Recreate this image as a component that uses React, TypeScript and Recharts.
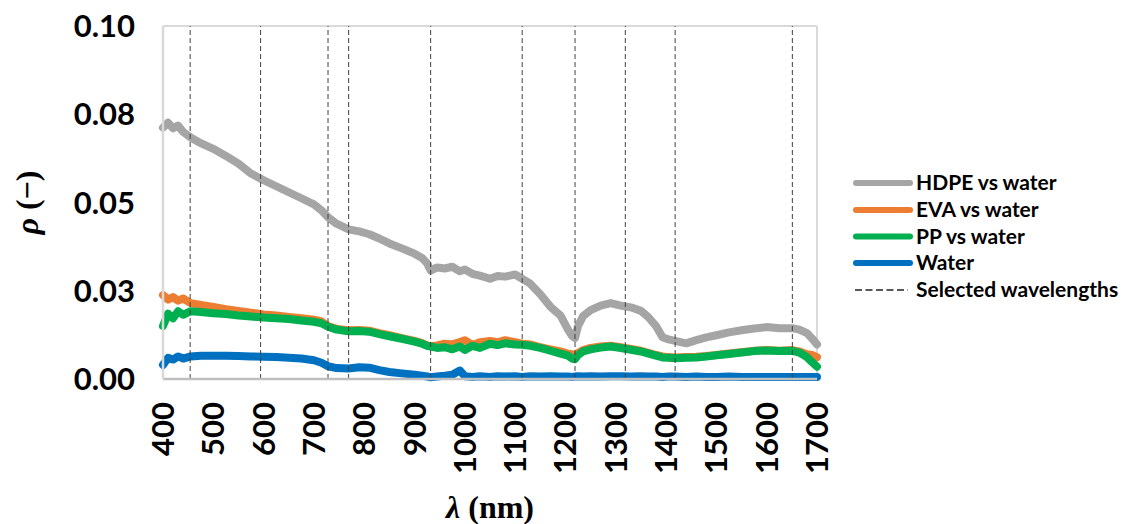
import React from "react";
import { LineChart, Line, XAxis, YAxis, ReferenceLine, Legend } from "recharts";

const wavelengths = [
  400, 410, 420, 430, 440,
  455, 475, 500, 525, 550,
  575, 600, 625, 650, 675,
  700, 715, 728, 745, 769,
  790, 810, 830, 850, 875,
  900, 915, 925, 932, 945,
  960, 975, 990, 1000, 1015,
  1030, 1050, 1065, 1080, 1100,
  1114, 1130, 1150, 1170, 1190,
  1205, 1213, 1219, 1225, 1235,
  1250, 1270, 1290, 1310, 1330,
  1350, 1365, 1380, 1393, 1405,
  1418, 1440, 1460, 1480, 1500,
  1525, 1550, 1575, 1600, 1625,
  1651, 1665, 1680, 1690, 1700,
];

const hdpe = [
  0.0712, 0.0726, 0.0710, 0.0718, 0.0700,
  0.0684, 0.0668, 0.0652, 0.0632, 0.0610,
  0.0582, 0.0563, 0.0546, 0.0529, 0.0512,
  0.0495, 0.0478, 0.0458, 0.0440, 0.0424,
  0.0418, 0.0410, 0.0398, 0.0384, 0.0370,
  0.0355, 0.0343, 0.0328, 0.0307, 0.0316,
  0.0313, 0.0318, 0.0305, 0.0310, 0.0298,
  0.0293, 0.0284, 0.0292, 0.0290, 0.0296,
  0.0284, 0.0270, 0.0240, 0.0205, 0.0180,
  0.0140, 0.0122, 0.0116, 0.0150, 0.0178,
  0.0195, 0.0208, 0.0215, 0.0208, 0.0203,
  0.0193, 0.0175, 0.0150, 0.0118, 0.0112,
  0.0108, 0.0101, 0.0110, 0.0118, 0.0124,
  0.0132, 0.0138, 0.0143, 0.0147, 0.0144,
  0.0144, 0.0140, 0.0130, 0.0115, 0.0098,
];

const eva = [
  0.0238, 0.0225, 0.0232, 0.0222, 0.0228,
  0.0215, 0.0210, 0.0204, 0.0198, 0.0193,
  0.0188, 0.0183, 0.0180, 0.0176, 0.0172,
  0.0168, 0.0163, 0.0150, 0.0142, 0.0138,
  0.0139, 0.0137, 0.0130, 0.0124, 0.0116,
  0.0108, 0.0102, 0.0095, 0.0093, 0.0095,
  0.0100, 0.0098, 0.0105, 0.0110, 0.0096,
  0.0104, 0.0108, 0.0104, 0.0110, 0.0104,
  0.0100, 0.0098, 0.0090, 0.0084, 0.0078,
  0.0072, 0.0070, 0.0068, 0.0074, 0.0082,
  0.0088, 0.0092, 0.0094, 0.0090, 0.0085,
  0.0080, 0.0074, 0.0068, 0.0064, 0.0062,
  0.0061, 0.0062, 0.0063, 0.0065, 0.0068,
  0.0072, 0.0076, 0.0080, 0.0082, 0.0080,
  0.0082, 0.0078, 0.0070, 0.0068, 0.0062,
];

const pp = [
  0.0150, 0.0185, 0.0172, 0.0192, 0.0182,
  0.0192, 0.0190, 0.0186, 0.0184, 0.0180,
  0.0177, 0.0174, 0.0172, 0.0170, 0.0166,
  0.0162, 0.0158, 0.0148, 0.0140, 0.0135,
  0.0136, 0.0134, 0.0127, 0.0121, 0.0114,
  0.0106, 0.0100, 0.0094, 0.0092, 0.0088,
  0.0090, 0.0084, 0.0092, 0.0082, 0.0094,
  0.0088, 0.0100, 0.0096, 0.0101, 0.0098,
  0.0097, 0.0094, 0.0088, 0.0080, 0.0072,
  0.0066, 0.0058, 0.0056, 0.0068, 0.0078,
  0.0084, 0.0089, 0.0092, 0.0088, 0.0083,
  0.0078, 0.0072, 0.0066, 0.0061, 0.0060,
  0.0059, 0.0060, 0.0061, 0.0064, 0.0067,
  0.0071, 0.0075, 0.0079, 0.0081, 0.0079,
  0.0080, 0.0075, 0.0062, 0.0048, 0.0035,
];

const water = [
  0.0040, 0.0060, 0.0055, 0.0064, 0.0058,
  0.0064, 0.0066, 0.0066, 0.0066, 0.0065,
  0.0064, 0.0063, 0.0062, 0.0060, 0.0058,
  0.0053, 0.0046, 0.0036, 0.0031, 0.0030,
  0.0033, 0.0032, 0.0025, 0.0020, 0.0016,
  0.0012, 0.0009, 0.0007, 0.0005, 0.0007,
  0.0009, 0.0012, 0.0024, 0.0008, 0.0006,
  0.0008, 0.0006, 0.0008, 0.0007, 0.0008,
  0.0006, 0.0008, 0.0007, 0.0008, 0.0007,
  0.0007, 0.0006, 0.0007, 0.0008, 0.0007,
  0.0008, 0.0007, 0.0008, 0.0008, 0.0007,
  0.0008, 0.0007, 0.0007, 0.0006, 0.0007,
  0.0007, 0.0006, 0.0007, 0.0006, 0.0006,
  0.0007, 0.0006, 0.0006, 0.0006, 0.0006,
  0.0006, 0.0006, 0.0006, 0.0006, 0.0006,
];

const selectedWavelengths = [454, 594, 728, 769, 932, 1114, 1219, 1319, 1418, 1651];

const xTicks = [400, 500, 600, 700, 800, 900, 1000, 1100, 1200, 1300, 1400, 1500, 1600, 1700];
const yTicks = [0, 0.025, 0.05, 0.075, 0.1];
const yTickLabels = ["0.00", "0.03", "0.05", "0.08", "0.10"];

const seriesKeys = ["hdpe", "eva", "pp", "water"];
const seriesNames = ["HDPE vs water", "EVA vs water", "PP vs water", "Water"];
const seriesColors = ["#A5A5A5", "#ED7D31", "#00B050", "#0070C0"];
const selectedLabel = "Selected wavelengths";

const data = wavelengths.map((w, i) => ({
  w,
  hdpe: hdpe[i],
  eva: eva[i],
  pp: pp[i],
  water: water[i],
}));

const TICK_FONT = "Lato, 'Open Sans', sans-serif";
const TITLE_FONT = "'Liberation Serif', 'Times New Roman', serif";

const YTick = (props: any) => {
  const { x, y, payload } = props;
  const idx = yTicks.indexOf(payload.value);
  return (
    <text x={x} y={y} dy="0.355em" textAnchor="end" fontFamily={TICK_FONT} fontWeight={700} fontSize={31} fill="#000">
      {yTickLabels[idx]}
    </text>
  );
};

const XTick = (props: any) => {
  const { x, y, payload } = props;
  return (
    <text
      x={x}
      y={y}
      dy="0.355em"
      textAnchor="end"
      transform={`rotate(-90, ${x}, ${y})`}
      fontFamily={TICK_FONT}
      fontWeight={700}
      fontSize={31}
      fill="#000"
    >
      {String(payload.value)}
    </text>
  );
};

const XTitle = (props: any) => {
  const vb = props.viewBox || {};
  const cx = vb.x + vb.width / 2;
  return (
    <text x={cx} y={518} textAnchor="middle" fontFamily={TITLE_FONT} fontWeight={700} fontSize={32} fill="#000">
      <tspan fontStyle="italic">λ</tspan>
      <tspan> (nm)</tspan>
    </text>
  );
};

const YTitle = (props: any) => {
  const vb = props.viewBox || {};
  const cy = vb.y + vb.height / 2;
  const x = 38;
  return (
    <text
      x={x}
      y={cy}
      textAnchor="middle"
      transform={`rotate(-90, ${x}, ${cy})`}
      fontFamily={TITLE_FONT}
      fontWeight={700}
      fontSize={32}
      fill="#000"
    >
      <tspan fontStyle="italic">ρ</tspan>
      <tspan> (−)</tspan>
    </text>
  );
};

const renderLegend = () => {
  const rowY = [15, 42, 68.5, 95, 122];
  return (
    <svg width={280} height={140} style={{ overflow: "visible", display: "block" }}>
      {seriesNames.map((name, i) => (
        <g key={name}>
          <line x1={6} x2={60} y1={rowY[i]} y2={rowY[i]} stroke={seriesColors[i]} strokeWidth={6} strokeLinecap="round" />
          <text x={66} y={rowY[i]} dy="0.355em" fontFamily={TICK_FONT} fontWeight={700} fontSize={21} fill="#000">
            {name}
          </text>
        </g>
      ))}
      <line x1={5} x2={58} y1={rowY[4]} y2={rowY[4]} stroke="#222" strokeWidth={1.3} strokeDasharray="7 3.5" />
      <text x={66} y={rowY[4]} dy="0.355em" fontFamily={TICK_FONT} fontWeight={700} fontSize={21} fill="#000">
        {selectedLabel}
      </text>
    </svg>
  );
};

export default function App() {
  return (
    <div style={{ position: "absolute", left: 0, top: 0, width: 1130, height: 524, background: "#fff" }}>
      <LineChart width={1130} height={524} data={data} margin={{ top: 26, right: 313, bottom: 0, left: 0 }}>
        <XAxis
          dataKey="w"
          type="number"
          domain={[400, 1700]}
          ticks={xTicks}
          interval={0}
          height={145}
          tickLine={false}
          tickSize={0}
          tickMargin={23}
          tick={<XTick />}
          axisLine={{ stroke: "#BFBFBF", strokeWidth: 2.5 }}
          label={<XTitle />}
        />
        <YAxis
          type="number"
          domain={[0, 0.1]}
          ticks={yTicks}
          interval={0}
          width={163}
          tickLine={false}
          tickSize={0}
          tickMargin={28}
          tick={<YTick />}
          axisLine={{ stroke: "#D9D9D9", strokeWidth: 2.5 }}
          label={<YTitle />}
        />
        <ReferenceLine y={0.1} stroke="#D9D9D9" strokeWidth={2} />
        <ReferenceLine x={1700} stroke="#D9D9D9" strokeWidth={2} />
        {seriesKeys.map((k, i) => (
          <Line
            key={k}
            dataKey={k}
            name={seriesNames[i]}
            stroke={seriesColors[i]}
            strokeWidth={8}
            strokeLinejoin="round"
            strokeLinecap="round"
            dot={false}
            activeDot={false}
            type="linear"
            isAnimationActive={false}
          />
        ))}
        {selectedWavelengths.map((w) => (
          <ReferenceLine key={w} x={w} stroke="#404040" strokeWidth={1} strokeDasharray="5 3" />
        ))}
        <Legend
          content={renderLegend}
          wrapperStyle={{ position: "absolute", left: 850, top: 168, width: 0, height: 0, overflow: "visible" }}
        />
      </LineChart>
    </div>
  );
}
